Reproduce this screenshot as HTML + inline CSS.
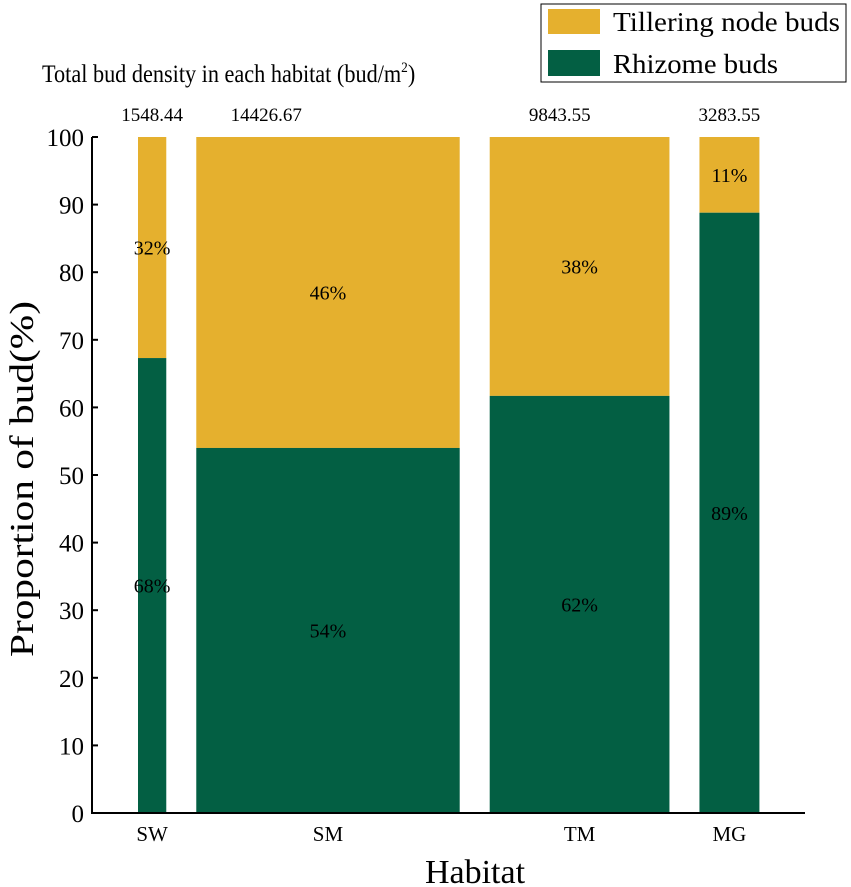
<!DOCTYPE html>
<html><head><meta charset="utf-8"><style>
html,body{margin:0;padding:0;background:#fff;}
svg{display:block;font-family:"Liberation Serif",serif;}
</style></head><body>
<svg id="chart" width="851" height="887" viewBox="0 0 851 887">
<g id="bars"></g>
<g id="axes"></g>
<text x="0" y="0" transform="translate(42,82) scale(0.89,1)" font-size="25">Total bud density in each habitat (bud/m<tspan font-size="15" dy="-10">2</tspan><tspan dy="10">)</tspan></text>
<g>
<rect x="541" y="4" width="305" height="78" fill="#fff" stroke="#000" stroke-width="1"/>
<rect x="548" y="9" width="52" height="25" fill="#E5B02E"/>
<text x="613" y="31" font-size="27" textLength="227" lengthAdjust="spacingAndGlyphs">Tillering node buds</text>
<rect x="548" y="50" width="52" height="26" fill="#035F43"/>
<text x="613" y="73" font-size="27" textLength="165" lengthAdjust="spacingAndGlyphs">Rhizome buds</text>
</g>
<text x="0" y="0" transform="translate(33,479) rotate(-90)" text-anchor="middle" font-size="34" textLength="356" lengthAdjust="spacingAndGlyphs">Proportion of bud(%)</text>
<text x="475" y="883" text-anchor="middle" font-size="34">Habitat</text>
</svg>
<script>
const categories = ["SW","SM","TM","MG"];
const densities = [1548.44,14426.67,9843.55,3283.55];
const densityLabels = ["1548.44","14426.67","9843.55","3283.55"];
const rhizome = [67.3,54,61.7,88.8];
const rhizomeLabels = ["68%","54%","62%","89%"];
const tilleringLabels = ["32%","46%","38%","11%"];
const yTicks = [0,10,20,30,40,50,60,70,80,90,100];

const NS="http://www.w3.org/2000/svg";
const x0=92, xStart=138, gap=30, pxPerUnit=0.01826;
const yTop=137, yBot=813;
function y(v){return yBot-(yBot-yTop)*v/100;}
function w(d){return d*pxPerUnit;}
function mk(tag,attrs,parent){const e=document.createElementNS(NS,tag);for(const k in attrs)e.setAttribute(k,attrs[k]);parent.appendChild(e);return e;}
const bars=document.getElementById('bars'), axes=document.getElementById('axes'), svg=document.getElementById('chart');
let cx=xStart;
categories.forEach((c,i)=>{
  const bw=w(densities[i]);
  const r=rhizome[i];
  const t=mk('rect',{x:cx,y:y(100),width:bw,height:y(r)-y(100),fill:'#E5B02E'},bars);
  
  
  const g=mk('rect',{x:cx,y:y(r),width:bw,height:y(0)-y(r),fill:'#035F43'},bars);
  
  
  const mid=cx+bw/2;
  const lt=mk('text',{x:mid,y:y((100+r)/2)+7,'text-anchor':'middle','font-size':20},bars);
  lt.textContent=tilleringLabels[i];
  
  
  const lr=mk('text',{x:mid,y:y(r/2)+7,'text-anchor':'middle','font-size':20},bars);
  lr.textContent=rhizomeLabels[i];
  
  
  const dl=mk('text',{x:cx+Math.min(bw/2,70),y:121,'text-anchor':'middle','font-size':19},svg);
  dl.textContent=densityLabels[i];
  
  
  const cl=mk('text',{x:mid,y:841,'text-anchor':'middle','font-size':21},svg);
  cl.textContent=c;
  
  
  cx+=bw+gap;
});
const ya=mk('line',{x1:x0,y1:yTop,x2:x0,y2:yBot+1,stroke:'#000','stroke-width':2},axes);


const xa=mk('line',{x1:x0-1,y1:yBot,x2:805,y2:yBot,stroke:'#000','stroke-width':2},axes);


yTicks.forEach(v=>{
  const tk=mk('line',{x1:x0,y1:y(v),x2:x0+6,y2:y(v),stroke:'#000','stroke-width':2},axes);
  
  
  const tl=mk('text',{x:x0-8,y:y(v)+9,'text-anchor':'end','font-size':25},axes);
  tl.textContent=v;
  
  
});
</script>
</body></html>
